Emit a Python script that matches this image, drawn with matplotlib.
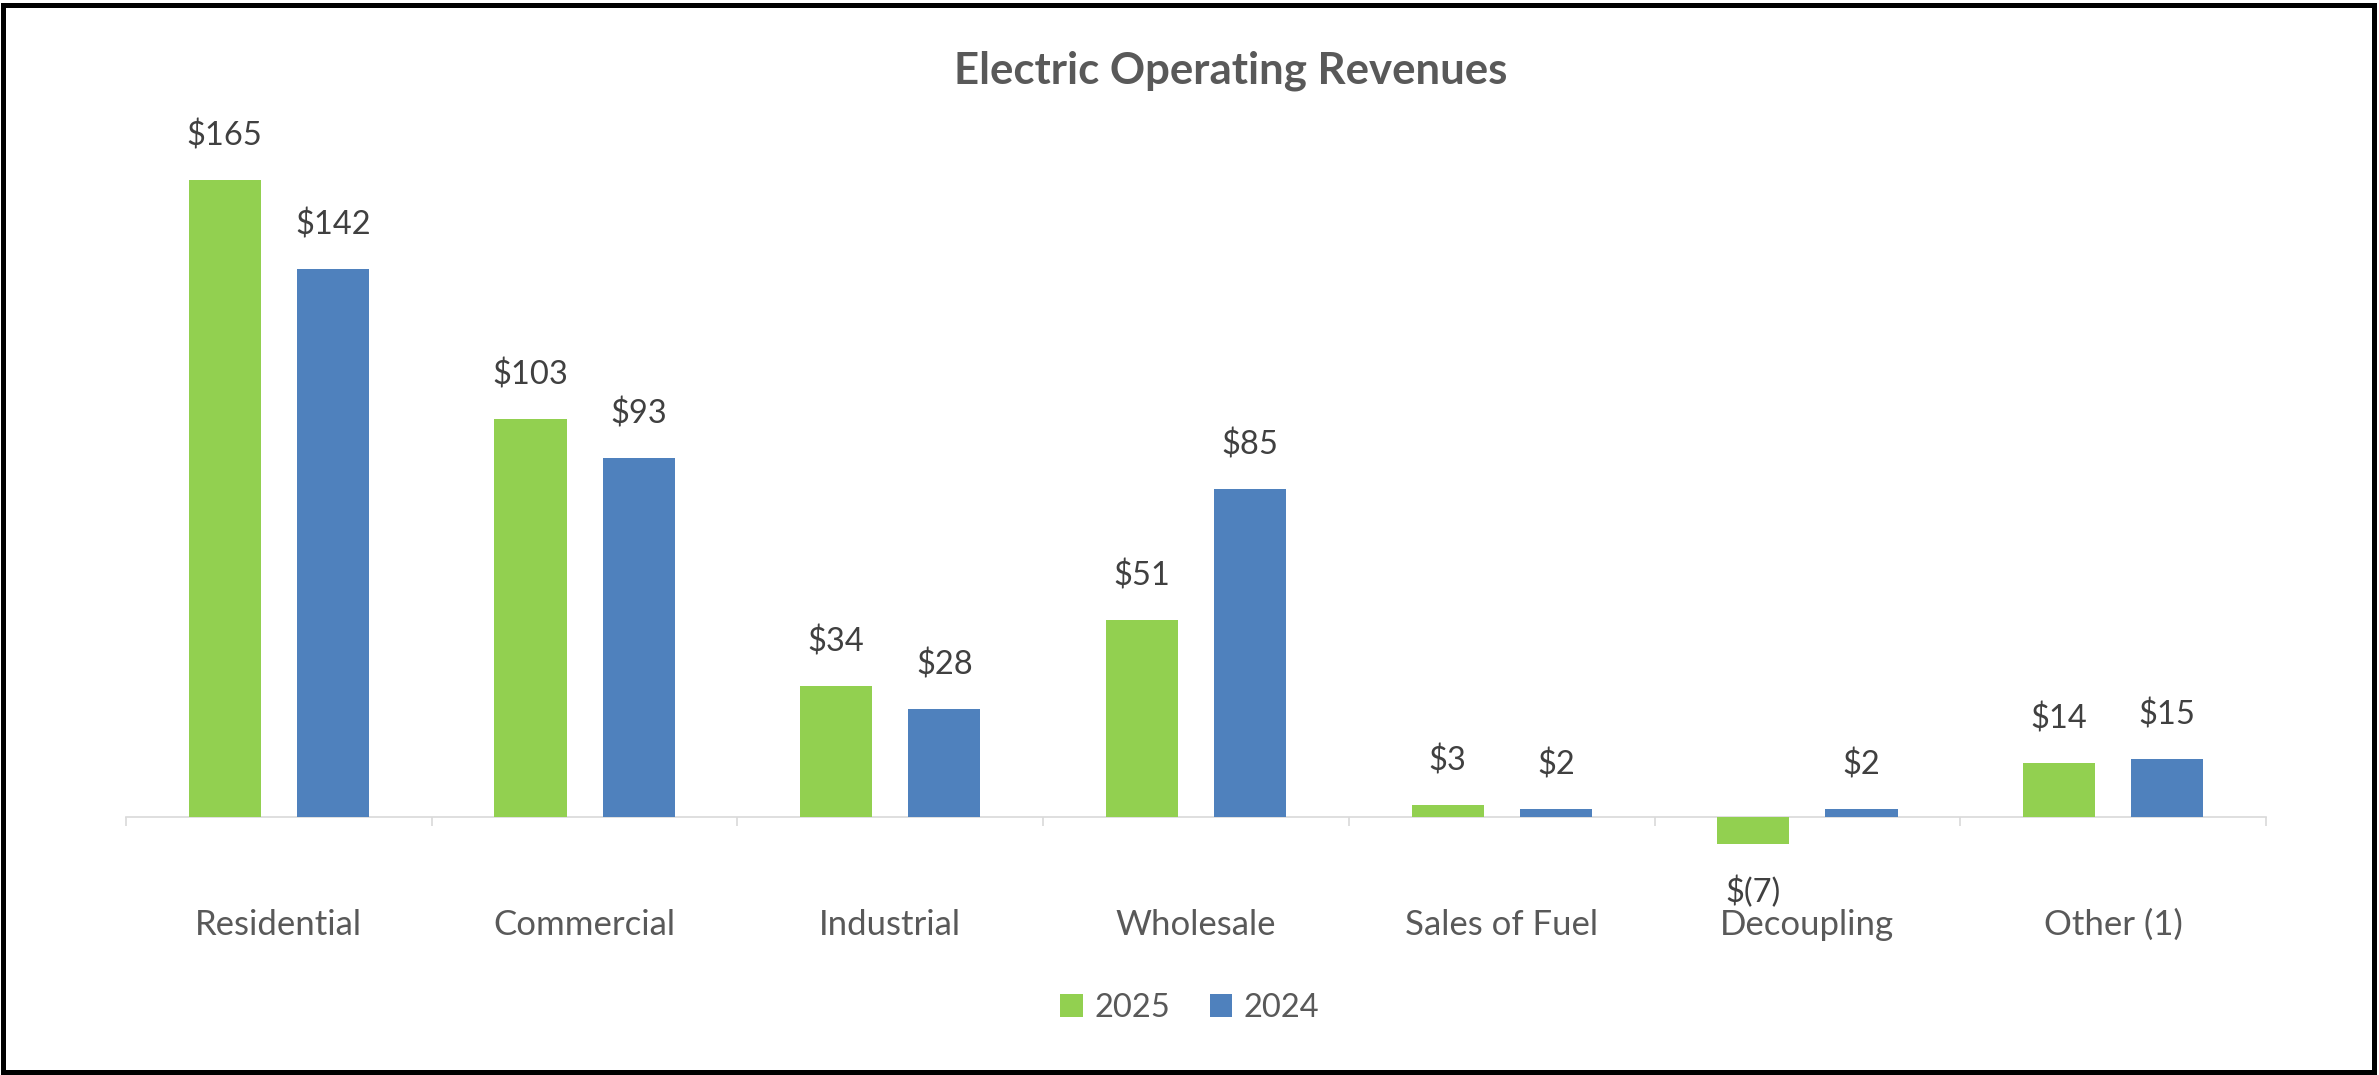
import matplotlib
matplotlib.use("Agg")
import matplotlib.pyplot as plt
import numpy as np
from matplotlib.patches import Rectangle

# Chart data (millions of dollars)
categories = ['Residential', 'Commercial', 'Industrial', 'Wholesale',
              'Sales of Fuel', 'Decoupling', 'Other (1)']
rev_2025 = [165, 103, 34, 51, 3, -7, 14]
rev_2024 = [142, 93, 28, 85, 2, 2, 15]
series_labels = ['2025', '2024']

green = '#92D050'
blue = '#4F81BD'
W, H = 2379, 1075

plt.rcParams['font.family'] = ['Lato', 'DejaVu Sans']

fig = plt.figure(figsize=(W / 100, H / 100), dpi=100)

# plot area placed in pixel terms: zero line at y=817, x from 126 to 2266
ymin, ymax = -20, 180
px_per_unit = 3.86
zero_px = 817
top_px = zero_px - ymax * px_per_unit
bot_px = zero_px - ymin * px_per_unit
ax = fig.add_axes([126 / W, 1 - bot_px / H, (2266 - 126) / W, (bot_px - top_px) / H])

x = np.arange(len(categories))
bw = 0.236
off = 0.177
b1 = ax.bar(x - off, rev_2025, bw, color=green, label=series_labels[0], zorder=3)
b2 = ax.bar(x + off, rev_2024, bw, color=blue, label=series_labels[1], zorder=3)

ax.set_xlim(-0.5, len(categories) - 0.5)
ax.set_ylim(ymin, ymax)
for side in ('top', 'left', 'right'):
    ax.spines[side].set_visible(False)
# horizontal axis line sits at zero
ax.spines['bottom'].set_position(('data', 0))
ax.spines['bottom'].set_color('#D9D9D9')
ax.spines['bottom'].set_linewidth(1.2)
ax.set_yticks([])

# category labels at centers, tick marks at boundaries
ax.set_xticks(x)
ax.set_xticklabels(categories, fontsize=25, color='#595959')
ax.set_xticks(np.arange(len(categories) + 1) - 0.5, minor=True)
ax.tick_params(axis='x', which='major', length=0, pad=108 * 0.72)
ax.tick_params(axis='x', which='minor', length=6.5, width=1.2, color='#D9D9D9')
for lab in ax.get_xticklabels():
    lab.set_va('center')


def fmt(v):
    return f'${v}' if v >= 0 else f'$({-v})'


for bars, vals in ((b1, rev_2025), (b2, rev_2024)):
    for rect, v in zip(bars, vals):
        cx = rect.get_x() + rect.get_width() / 2
        dy = 44 * 0.72 if v >= 0 else -48 * 0.72
        ax.annotate(fmt(v), xy=(cx, v), xytext=(0, dy), textcoords='offset points',
                    ha='center', va='center', fontsize=23.5, color='#404040')

fig.text(1231 / W, 1 - 71 / H, 'Electric Operating Revenues', ha='center', va='center',
         fontsize=31.5, fontweight='bold', color='#595959')

fig.legend(loc='center', bbox_to_anchor=(1190 / W, 1 - 1008 / H), ncol=2, frameon=False,
           fontsize=23.5, handlelength=0.7, handleheight=0.7, handletextpad=0.35,
           columnspacing=1.2, labelcolor='#595959')

# black frame round the whole chart
fig.patches.append(Rectangle((3 / W, 3 / H), 1 - 8 / W, 1 - 8 / H, transform=fig.transFigure,
                             fill=False, ec='black', lw=3.6))

fig.savefig('out.png', dpi=100)
